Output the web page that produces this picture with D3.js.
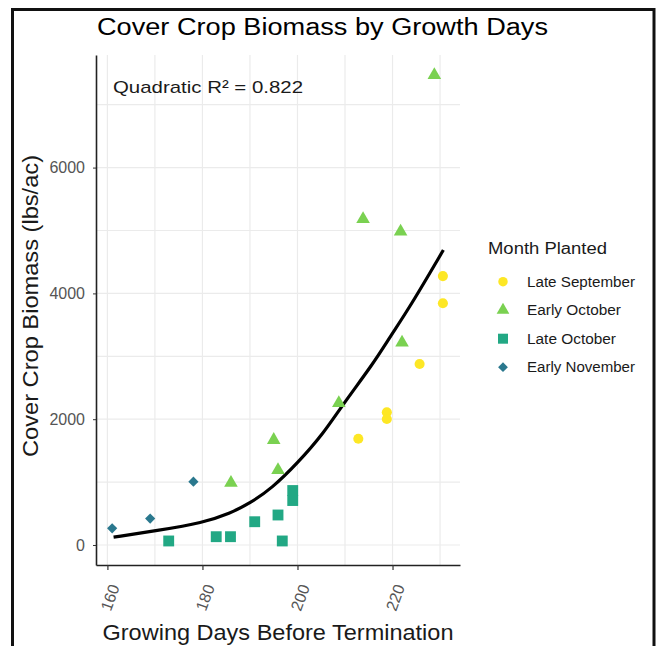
<!DOCTYPE html>
<html>
<head>
<meta charset="utf-8">
<script src="https://cdn.jsdelivr.net/npm/d3@7"></script>
<style>
  body { margin: 0; background: #fff; }
  text { font-family: "Liberation Sans", Arial, sans-serif; }
</style>
</head>
<body>
<div id="chart"></div>
<script>
// growing days / biomass (lbs/ac) for each planting group
const lateSeptDays = [212.8, 218.8, 218.8, 225.7, 230.6, 230.6];
const lateSeptBiomass = [1690, 2110, 2003, 2878, 3843, 4275];

const earlyOctDays = [186.0, 195.0, 195.9, 208.7, 222.0, 213.8, 221.7, 228.8];
const earlyOctBiomass = [990, 1670, 1192, 2255, 3218, 5183, 4981, 7472];

const lateOctDays = [172.9, 182.9, 185.9, 191.0, 195.9, 196.8, 199.0, 199.0];
const lateOctBiomass = [64, 132, 132, 370, 477, 64, 707, 866];

const earlyNovDays = [161.0, 169.0, 178.1];
const earlyNovBiomass = [265, 420, 1006];

// quadratic fit
const fitDays = [161.3, 170.4, 180.2, 185.8, 190.0, 194.6, 200.0, 205.5, 209.5, 216.0, 219.5, 223.7, 230.7];
const fitBiomass = [125, 228, 355, 504, 663, 901, 1299, 1776, 2230, 2889, 3312, 3789, 4690];

const groups = ['Late September', 'Early October', 'Late October', 'Early November'];
const groupColors = ['#FDE725', '#7AD151', '#22A884', '#2A788E'];
const xTicks = [160, 180, 200, 220];
const xMinor = [170, 190, 210, 230];
const yTicks = [0, 2000, 4000, 6000];
const yMinor = [1000, 3000, 5000, 7000];

const width = 659, height = 646;
const panel = { left: 96, right: 460, top: 55, bottom: 565 };

const svg = d3.select('#chart').append('svg')
  .attr('width', width)
  .attr('height', height);

// outer frame
svg.append('path')
  .attr('d', `M12.5,${height + 5}V9.5H654V${height + 5}`)
  .attr('fill', 'none')
  .attr('stroke', '#111')
  .attr('stroke-width', 3);

const x = d3.scaleLinear().domain([157.6, 234.2]).range([panel.left, panel.right]);
const y = d3.scaleLinear().domain([-318, 7790]).range([panel.bottom, panel.top]);

// grid
const grid = svg.append('g');
grid.selectAll('.vx').data(xTicks.concat(xMinor)).enter().append('line')
  .attr('x1', d => x(d)).attr('x2', d => x(d))
  .attr('y1', panel.top).attr('y2', panel.bottom)
  .style('stroke', '#ebebeb').style('stroke-width', 1.2);
grid.selectAll('.hy').data(yTicks.concat(yMinor)).enter().append('line')
  .attr('x1', panel.left).attr('x2', panel.right)
  .attr('y1', d => y(d)).attr('y2', d => y(d))
  .style('stroke', '#ebebeb').style('stroke-width', 1.2);

// axes
const xAxis = svg.append('g')
  .attr('transform', `translate(0,${panel.bottom})`)
  .call(d3.axisBottom(x).tickValues(xTicks).tickSize(5).tickSizeOuter(0));
xAxis.select('.domain').attr('stroke', '#222').attr('stroke-width', 1.6);
xAxis.selectAll('.tick line').attr('stroke', '#333').attr('stroke-width', 1.2);
xAxis.selectAll('.tick text')
  .attr('text-anchor', 'end')
  .attr('x', 0).attr('y', 0).attr('dy', 0)
  .attr('transform', 'translate(12,22) rotate(-70)')
  .style('font-size', '16px')
  .style('fill', '#555');

const yAxis = svg.append('g')
  .attr('transform', `translate(${panel.left},0)`)
  .call(d3.axisLeft(y).tickValues(yTicks).tickFormat(d3.format('d')).tickSize(3).tickSizeOuter(0));
yAxis.select('.domain').attr('stroke', '#222').attr('stroke-width', 1.6);
yAxis.selectAll('.tick line').attr('stroke', '#333');
yAxis.selectAll('.tick text')
  .attr('x', -11)
  .style('font-size', '16px')
  .style('fill', '#555');

// fitted curve
const fit = fitDays.map((d, i) => [d, fitBiomass[i]]);
svg.append('path')
  .datum(fit)
  .attr('d', d3.line().x(d => x(d[0])).y(d => y(d[1])).curve(d3.curveBasis))
  .attr('fill', 'none')
  .attr('stroke', '#000')
  .attr('stroke-width', 3.2);

// symbols per group
const shapes = [
  d3.symbol().type(d3.symbolCircle).size(80),
  d3.symbol().type(d3.symbolTriangle).size(80),
  d3.symbol().type(d3.symbolSquare).size(118),
  d3.symbol().type(d3.symbolSquare).size(52)
];
const rot = [0, 0, 0, 45];

const series = [
  lateSeptDays.map((d, i) => [d, lateSeptBiomass[i]]),
  earlyOctDays.map((d, i) => [d, earlyOctBiomass[i]]),
  lateOctDays.map((d, i) => [d, lateOctBiomass[i]]),
  earlyNovDays.map((d, i) => [d, earlyNovBiomass[i]])
];

series.forEach((pts, g) => {
  svg.append('g').selectAll('path')
    .data(pts)
    .enter().append('path')
    .attr('d', shapes[g])
    .attr('transform', d => `translate(${x(d[0])},${y(d[1])}) rotate(${rot[g]})`)
    .style('fill', groupColors[g]);
});

// annotation
svg.append('text')
  .attr('x', 113).attr('y', 93)
  .attr('textLength', 190).attr('lengthAdjust', 'spacingAndGlyphs')
  .style('font-size', '17px').style('fill', '#1a1a1a')
  .text('Quadratic R² = 0.822');

// title
svg.append('text')
  .attr('x', 97).attr('y', 35)
  .attr('textLength', 451).attr('lengthAdjust', 'spacingAndGlyphs')
  .style('font-size', '23px').style('fill', '#000')
  .text('Cover Crop Biomass by Growth Days');

// axis titles
svg.append('text')
  .attr('x', 278).attr('y', 640)
  .attr('text-anchor', 'middle')
  .attr('textLength', 351).attr('lengthAdjust', 'spacingAndGlyphs')
  .style('font-size', '22px').style('fill', '#1a1a1a')
  .text('Growing Days Before Termination');

svg.append('text')
  .attr('transform', 'translate(38,306) rotate(-90)')
  .attr('text-anchor', 'middle')
  .attr('textLength', 302).attr('lengthAdjust', 'spacingAndGlyphs')
  .style('font-size', '22px').style('fill', '#1a1a1a')
  .text('Cover Crop Biomass (lbs/ac)');

// legend
const legend = svg.append('g');
legend.append('text')
  .attr('x', 488).attr('y', 254)
  .attr('textLength', 119).attr('lengthAdjust', 'spacingAndGlyphs')
  .style('font-size', '16px').style('fill', '#1a1a1a')
  .text('Month Planted');

const labelWidths = [108, 94, 89, 108];
const legendSizes = [70, 70, 100, 48];
const legendTypes = [d3.symbolCircle, d3.symbolTriangle, d3.symbolSquare, d3.symbolSquare];
groups.forEach((name, i) => {
  const cy = 281.7 + i * 28.5;
  legend.append('path')
    .attr('d', d3.symbol().type(legendTypes[i]).size(legendSizes[i]))
    .attr('transform', `translate(503,${cy}) rotate(${rot[i]})`)
    .style('fill', groupColors[i]);
  legend.append('text')
    .attr('x', 527).attr('y', cy + 5)
    .attr('textLength', labelWidths[i]).attr('lengthAdjust', 'spacingAndGlyphs')
    .style('font-size', '14px').style('fill', '#1a1a1a')
    .text(name);
});
</script>
</body>
</html>
